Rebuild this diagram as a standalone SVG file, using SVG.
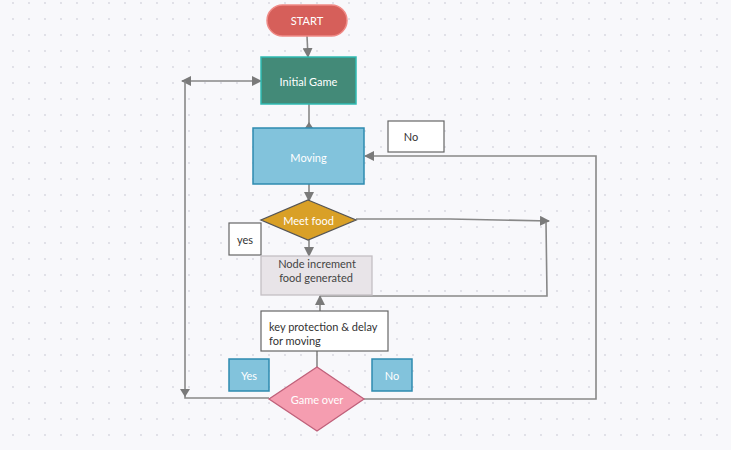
<svg xmlns="http://www.w3.org/2000/svg" width="731" height="450" viewBox="0 0 731 450">
<defs>
<pattern id="dots" patternUnits="userSpaceOnUse" x="5" y="-5" width="16" height="16">
<circle cx="8" cy="8" r="0.9" fill="#d6d6de"/>
</pattern>
<marker id="arr" viewBox="0 0 10 10" refX="9" refY="5" markerWidth="10" markerHeight="10" markerUnits="userSpaceOnUse" orient="auto-start-reverse">
<path d="M0,0 L10,5 L0,10 Z" fill="#7a7a7a"/>
</marker>
<style>
.ln{fill:none;stroke:#888;stroke-width:1.6}
.t{font-family:Lato,"Liberation Sans",sans-serif;font-size:11px;text-anchor:middle;dominant-baseline:central}
.w{fill:#ffffff}
.d{fill:#333333}
.lbl{fill:#ffffff;stroke:#666;stroke-width:1.2}
.blue{fill:#82c3dc;stroke:#2e8bb0;stroke-width:1.5}
</style>
</defs>
<rect width="731" height="450" fill="#f8f8fb"/>
<rect width="731" height="450" fill="url(#dots)"/>
<g id="connectors">
<line class="ln" x1="307" y1="36" x2="308" y2="57" marker-end="url(#arr)"/>
<line class="ln" x1="182" y1="81" x2="261" y2="81" marker-start="url(#arr)" marker-end="url(#arr)"/>
<polyline class="ln" points="269,398 185,398 185,81"/>
<path d="M180,389 L190,389 L185,397 Z" fill="#7a7a7a"/>
<line class="ln" x1="309" y1="104" x2="309" y2="128"/>
<path d="M309,122 L305,128 L313,128 Z" fill="#7a7a7a"/>
<line class="ln" x1="309" y1="184" x2="309" y2="201" marker-end="url(#arr)"/>
<line class="ln" x1="309" y1="240" x2="309" y2="256" marker-end="url(#arr)"/>
<polyline class="ln" points="356,219 450,219 549,221" marker-end="url(#arr)"/>
<polyline class="ln" points="546,222 547,296 320,296"/>
<line class="ln" x1="320" y1="311" x2="320" y2="296" marker-end="url(#arr)"/>
<line class="ln" x1="317" y1="351" x2="317" y2="367"/>
<polyline class="ln" points="364,399 596,399 596,156 365,156" marker-end="url(#arr)"/>
</g>
<g id="start">
<rect x="267" y="5" width="80" height="31" rx="15.5" fill="#d65f5a" stroke="#f08a86" stroke-width="1.5"/>
<text class="t w" x="307" y="20.5">START</text>
</g>
<g id="initial-game">
<rect x="261" y="57" width="95" height="47" fill="#438a78" stroke="#2fbab3" stroke-width="1.5"/>
<text class="t w" x="308.5" y="81">Initial Game</text>
</g>
<g id="moving">
<rect x="253" y="128" width="111" height="56" class="blue"/>
<text class="t w" x="308.5" y="157">Moving</text>
</g>
<g id="meet-food">
<polygon points="308,200 356,220 308,240 261,220" fill="#d9a027" stroke="#555" stroke-width="1.3"/>
<text class="t w" x="308.5" y="220">Meet food</text>
</g>
<g id="label-yes">
<rect x="229" y="223" width="32" height="32" class="lbl"/>
<text class="t d" x="245" y="239.5">yes</text>
</g>
<g id="node-increment">
<rect x="261" y="256" width="111" height="39" fill="#e8e4e8" stroke="#c4bfc4" stroke-width="1.3"/>
<text class="t" x="317" y="263.5" fill="#444">Node increment</text>
<text class="t" x="316" y="277" fill="#444">food generated</text>
</g>
<g id="key-protection">
<rect x="261" y="311" width="127" height="40" class="lbl"/>
<text class="t d" x="269" y="326.5" style="text-anchor:start">key protection &amp; delay</text>
<text class="t d" x="269" y="340.5" style="text-anchor:start">for moving</text>
</g>
<g id="game-over">
<polygon points="317,367 364,399 317,431 269,399" fill="#f59db0" stroke="#c0607a" stroke-width="1.3"/>
<text class="t w" x="317" y="399">Game over</text>
</g>
<g id="label-yes-bottom">
<rect x="229" y="359" width="40" height="32" class="blue"/>
<text class="t w" x="249" y="375">Yes</text>
</g>
<g id="label-no-bottom">
<rect x="372" y="359" width="40" height="32" class="blue"/>
<text class="t w" x="392" y="375">No</text>
</g>
<g id="label-no-top">
<rect x="388" y="121" width="56" height="31" class="lbl"/>
<text class="t d" x="411" y="136.5">No</text>
</g>
</svg>
